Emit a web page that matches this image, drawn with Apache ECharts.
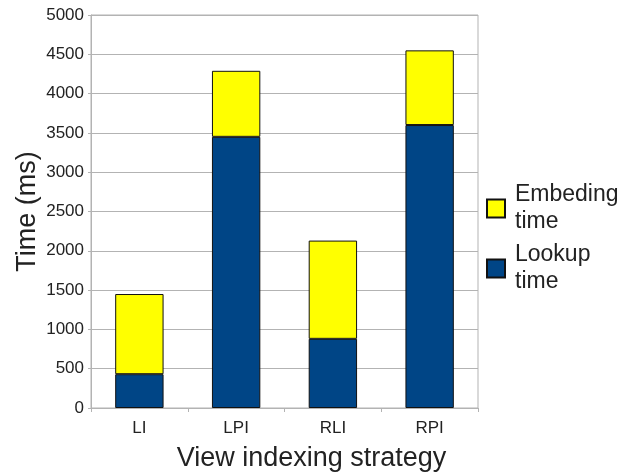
<!DOCTYPE html>
<html>
<head>
<meta charset="utf-8">
<script src="https://cdn.jsdelivr.net/npm/echarts@6/dist/echarts.min.js"></script>
<style>html,body{margin:0;padding:0;background:#fff}#c{width:638px;height:472px}</style>
</head>
<body>
<div id="c"></div>
<script>
var categories = ['LI', 'LPI', 'RLI', 'RPI'];
var lookupTime = [430, 3450, 880, 3600];
var embedingTime = [1020, 840, 1250, 950];
var yTicks = { min: 0, max: 5000, interval: 500 };
var seriesNames = ['Embeding\ntime', 'Lookup\ntime'];

var FONT = 'Liberation Sans';
var chart = echarts.init(document.getElementById('c'));
chart.setOption({
  backgroundColor: '#fff',
  animation: false,
  textStyle: { fontFamily: FONT, color: '#222' },
  grid: { left: 91, right: 160, top: 15, bottom: 64, containLabel: false, outerBoundsMode: 'none', show: true, borderColor: '#b3b3b3', borderWidth: 1 },
  legend: {
    data: seriesNames,
    orient: 'vertical',
    left: 486,
    top: 168,
    padding: 0,
    itemGap: -21,
    itemWidth: 18,
    itemHeight: 18,
    icon: 'rect',
    textStyle: { fontFamily: FONT, fontSize: 23, lineHeight: 27, color: '#222', padding: [27, 0, 0, 5] }
  },
  xAxis: {
    type: 'category',
    data: categories,
    name: 'View indexing strategy',
    nameLocation: 'middle',
    nameGap: 37,
    nameMoveOverlap: false,
    nameTextStyle: { fontFamily: FONT, fontSize: 27, color: '#222', padding: [0, 0, 0, 54] },
    axisLine: { lineStyle: { color: '#b3b3b3' } },
    axisTick: { show: true, length: 4, lineStyle: { color: '#b3b3b3' } },
    axisLabel: { fontFamily: FONT, fontSize: 17, color: '#222', margin: 12 }
  },
  yAxis: {
    type: 'value',
    min: yTicks.min,
    max: yTicks.max,
    interval: yTicks.interval,
    name: 'Time (ms)',
    nameLocation: 'middle',
    nameGap: 50,
    nameMoveOverlap: false,
    nameTextStyle: { fontFamily: FONT, fontSize: 27, color: '#222' },
    axisLine: { show: true, lineStyle: { color: '#b3b3b3' } },
    axisTick: { show: true, length: 3, lineStyle: { color: '#b3b3b3' } },
    axisLabel: { fontFamily: FONT, fontSize: 17, color: '#222', margin: 7, formatter: function (v) { return String(v); } },
    splitLine: { lineStyle: { color: '#b3b3b3' } }
  },
  series: [
    {
      name: seriesNames[1],
      type: 'bar',
      stack: 'total',
      barWidth: '50%',
      data: lookupTime,
      itemStyle: { color: '#004586', borderColor: '#111', borderWidth: 1 }
    },
    {
      name: seriesNames[0],
      type: 'bar',
      stack: 'total',
      barWidth: '50%',
      data: embedingTime,
      itemStyle: { color: '#ffff00', borderColor: '#111', borderWidth: 1 }
    }
  ]
});
</script>
</body>
</html>
